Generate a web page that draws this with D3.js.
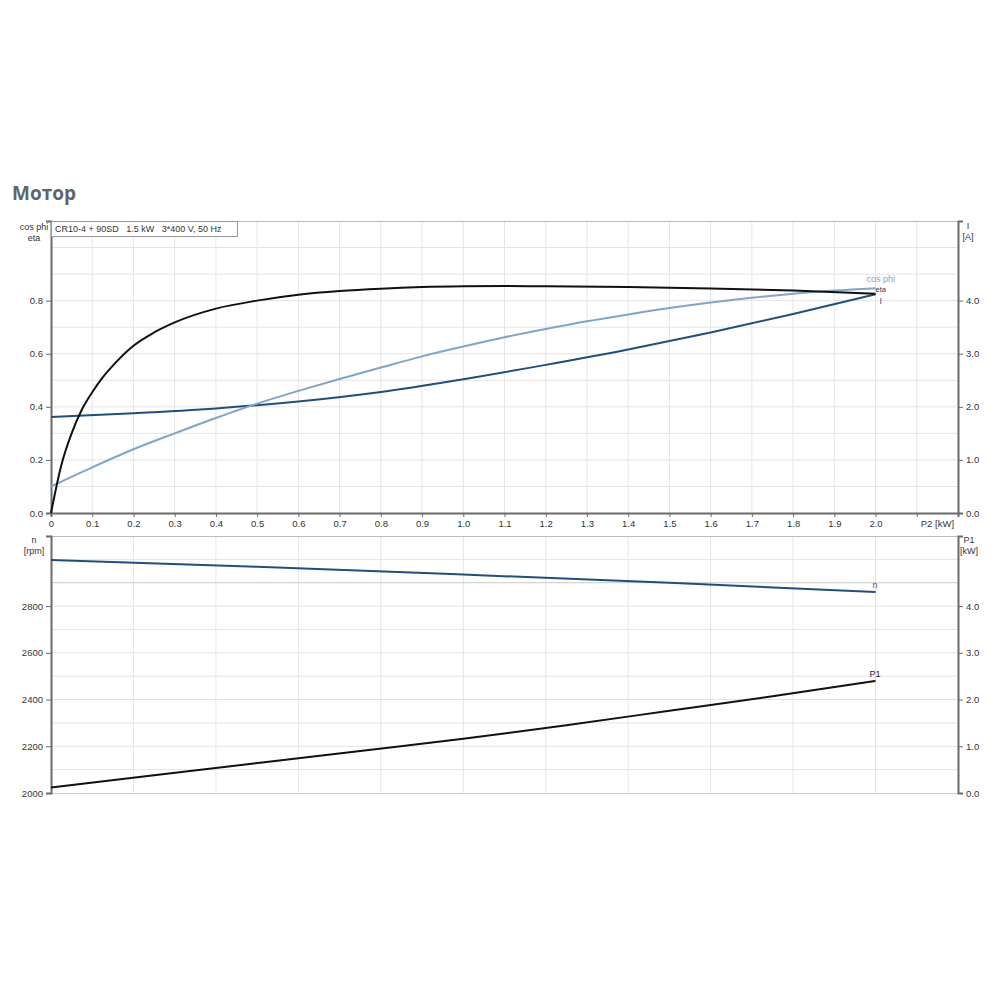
<!DOCTYPE html>
<html>
<head>
<meta charset="utf-8">
<script src="https://cdn.jsdelivr.net/npm/d3@7"></script>
<style>
  body { margin: 0; background: #fff; }
  svg { font-family: "Liberation Sans", Arial, sans-serif; }
</style>
</head>
<body>
<svg width="1000" height="1000"></svg>
<script>
// P2 [kW] on the x axis for every curve
var etaP2 = [0, 0.025, 0.05, 0.075, 0.1, 0.125, 0.15, 0.2, 0.25, 0.3, 0.4, 0.5, 0.6, 0.7, 0.8, 0.9, 1.0, 1.1, 1.2, 1.4, 1.6, 1.8, 2.0];
var etaValues = [0, 0.18, 0.30, 0.39, 0.455, 0.51, 0.555, 0.63, 0.68, 0.718, 0.77, 0.80, 0.822, 0.836, 0.845, 0.851, 0.854, 0.855, 0.854, 0.851, 0.846, 0.838, 0.826];

var cosPhiP2 = [0, 0.1, 0.2, 0.3, 0.4, 0.5, 0.6, 0.7, 0.8, 0.9, 1.0, 1.1, 1.2, 1.3, 1.4, 1.5, 1.6, 1.7, 1.8, 1.9, 2.0];
var cosPhiValues = [0.10, 0.172, 0.24, 0.30, 0.358, 0.412, 0.46, 0.505, 0.548, 0.59, 0.627, 0.662, 0.693, 0.722, 0.748, 0.772, 0.793, 0.811, 0.826, 0.838, 0.847];

var currentP2 = [0, 0.2, 0.4, 0.6, 0.8, 1.0, 1.2, 1.4, 1.6, 1.8, 2.0];
var currentValues = [1.81, 1.88, 1.97, 2.1, 2.28, 2.52, 2.79, 3.08, 3.4, 3.75, 4.12];

var speedP2 = [0, 0.5, 1.0, 1.5, 2.0];
var speedValues = [2997, 2968, 2935, 2900, 2860];

var p1P2 = [0, 0.25, 0.5, 0.75, 1.0, 1.25, 1.5, 1.75, 2.0];
var p1Values = [0.12, 0.38, 0.64, 0.9, 1.16, 1.45, 1.76, 2.07, 2.40];

var xTicks = [0, 0.1, 0.2, 0.3, 0.4, 0.5, 0.6, 0.7, 0.8, 0.9, 1.0, 1.1, 1.2, 1.3, 1.4, 1.5, 1.6, 1.7, 1.8, 1.9, 2.0];
var etaTicks = [0, 0.2, 0.4, 0.6, 0.8];
var currentTicks = [0, 1, 2, 3, 4];
var speedTicks = [2000, 2200, 2400, 2600, 2800];
var p1Ticks = [0, 1, 2, 3, 4];
var infoText = 'CR10-4 + 90SD   1.5 kW   3*400 V, 50 Hz';

var left = 51, right = 958;
var axisColor = '#6b6b6b', gridColor = '#e4e4e4', textColor = '#333';
var darkBlue = '#1f4f80', lightBlue = '#7fa5c8', black = '#111';

var svg = d3.select('svg');

svg.append('text')
    .attr('x', 12).attr('y', 200)
    .style('font-family', '"Open Sans", sans-serif')
    .style('font-weight', 700)
    .style('font-size', '19px')
    .attr('fill', '#5b6671')
    .text('Мотор');

var x = d3.scaleLinear().domain([0, 2.2]).range([left, right]);

// ---------- top chart ----------
var top1 = 221, bot1 = 513;
var yEta = d3.scaleLinear().domain([0, 1.1]).range([bot1, top1]);
var yI = d3.scaleLinear().domain([0, 5.5]).range([bot1, top1]);

var g1 = svg.append('g');

g1.selectAll('.vgrid')
    .data(d3.range(1, 22).map(i => i / 10))
  .enter().append('line')
    .attr('x1', d => x(d)).attr('x2', d => x(d))
    .attr('y1', top1).attr('y2', bot1)
    .attr('stroke', gridColor);

g1.selectAll('.hgrid')
    .data(d3.range(1, 11).map(i => i / 10))
  .enter().append('line')
    .attr('x1', left).attr('x2', right)
    .attr('y1', d => yEta(d)).attr('y2', d => yEta(d))
    .attr('stroke', gridColor);

g1.append('line')
    .attr('x1', left).attr('x2', right).attr('y1', top1 + 0.5).attr('y2', top1 + 0.5)
    .attr('stroke', '#bbb');

g1.append('g')
    .attr('transform', 'translate(' + left + ',0)')
    .call(d3.axisLeft(yEta).tickValues(etaTicks).tickFormat(d3.format('.1f')).tickSizeOuter(0).tickSize(5));

g1.append('g')
    .attr('transform', 'translate(' + right + ',0)')
    .call(d3.axisRight(yI).tickValues(currentTicks).tickFormat(d3.format('.1f')).tickSizeOuter(0).tickSize(5));

g1.append('g')
    .attr('transform', 'translate(0,' + bot1 + ')')
    .call(d3.axisBottom(x).tickValues(xTicks.concat([2.1]))
      .tickFormat(d => d === 0 ? '0' : d > 2.05 ? '' : d3.format('.1f')(d))
      .tickSizeOuter(0).tickSize(4));

g1.append('text')
    .attr('x', x(2.1) + 4).attr('y', bot1 + 14)
    .attr('font-size', 9.5).attr('fill', textColor)
    .text('P2 [kW]');

// info box
var info = g1.append('g');
info.append('rect')
    .attr('x', left + 0.5).attr('y', top1 + 0.5)
    .attr('width', 186).attr('height', 15)
    .attr('fill', '#fff').attr('stroke', '#999');
info.append('text')
    .attr('x', left + 4).attr('y', top1 + 11)
    .attr('font-size', 9).attr('fill', textColor)
    .style('white-space', 'pre')
    .text(infoText);

// axis titles
g1.append('text').attr('x', 34).attr('y', 230).attr('text-anchor', 'middle')
    .attr('font-size', 9).attr('fill', textColor).text('cos phi');
g1.append('text').attr('x', 34).attr('y', 241).attr('text-anchor', 'middle')
    .attr('font-size', 9).attr('fill', textColor).text('eta');
g1.append('text').attr('x', 968).attr('y', 229).attr('text-anchor', 'middle')
    .attr('font-size', 9).attr('fill', textColor).text('I');
g1.append('text').attr('x', 968).attr('y', 240).attr('text-anchor', 'middle')
    .attr('font-size', 9).attr('fill', textColor).text('[A]');

var curve = d3.curveMonotoneX;

var etaLine = d3.line().curve(curve).x((d, i) => x(etaP2[i])).y(d => yEta(d));
var cosLine = d3.line().curve(curve).x((d, i) => x(cosPhiP2[i])).y(d => yEta(d));
var iLine = d3.line().curve(curve).x((d, i) => x(currentP2[i])).y(d => yI(d));

g1.append('path').attr('d', iLine(currentValues))
    .attr('fill', 'none').attr('stroke', darkBlue).attr('stroke-width', 2);
g1.append('path').attr('d', cosLine(cosPhiValues))
    .attr('fill', 'none').attr('stroke', lightBlue).attr('stroke-width', 2);
g1.append('path').attr('d', etaLine(etaValues))
    .attr('fill', 'none').attr('stroke', black).attr('stroke-width', 2);

g1.append('text').attr('x', x(2.0) - 9).attr('y', yEta(cosPhiValues[cosPhiValues.length - 1]) - 6)
    .attr('font-size', 9).attr('fill', lightBlue).text('cos phi');
g1.append('text').attr('x', x(2.0)).attr('y', yEta(etaValues[etaValues.length - 1]) - 2)
    .attr('font-size', 7.5).attr('fill', '#333').text('eta');
g1.append('text').attr('x', x(2.0) + 4).attr('y', yI(currentValues[currentValues.length - 1]) + 10)
    .attr('font-size', 9).attr('fill', darkBlue).text('I');

// ---------- bottom chart ----------
var top2 = 536, bot2 = 793;
var yN = d3.scaleLinear().domain([2000, 3100]).range([bot2, top2]);
var yP1 = d3.scaleLinear().domain([0, 5.5]).range([bot2, top2]);

var g2 = svg.append('g');

g2.selectAll('.vgrid')
    .data(d3.range(1, 11).map(i => i / 5))
  .enter().append('line')
    .attr('x1', d => x(d)).attr('x2', d => x(d))
    .attr('y1', top2).attr('y2', bot2)
    .attr('stroke', gridColor);

g2.selectAll('.hgrid')
    .data(d3.range(1, 11).map(i => 2000 + i * 100))
  .enter().append('line')
    .attr('x1', left).attr('x2', right)
    .attr('y1', d => yN(d)).attr('y2', d => yN(d))
    .attr('stroke', d => d === 2900 ? '#c8c8c8' : gridColor);

g2.append('line')
    .attr('x1', left).attr('x2', right).attr('y1', top2 + 0.5).attr('y2', top2 + 0.5)
    .attr('stroke', '#bbb');
g2.append('line')
    .attr('x1', left).attr('x2', right).attr('y1', bot2 + 0.5).attr('y2', bot2 + 0.5)
    .attr('stroke', '#ccc');

g2.append('g')
    .attr('transform', 'translate(' + left + ',0)')
    .call(d3.axisLeft(yN).tickValues(speedTicks).tickFormat(d3.format('d')).tickSizeOuter(0).tickSize(5));

g2.append('g')
    .attr('transform', 'translate(' + right + ',0)')
    .call(d3.axisRight(yP1).tickValues(p1Ticks).tickFormat(d3.format('.1f')).tickSizeOuter(0).tickSize(5));

g2.append('text').attr('x', 34).attr('y', 543).attr('text-anchor', 'middle')
    .attr('font-size', 9).attr('fill', textColor).text('n');
g2.append('text').attr('x', 34).attr('y', 554).attr('text-anchor', 'middle')
    .attr('font-size', 9).attr('fill', textColor).text('[rpm]');
g2.append('text').attr('x', 969).attr('y', 543).attr('text-anchor', 'middle')
    .attr('font-size', 9).attr('fill', textColor).text('P1');
g2.append('text').attr('x', 969).attr('y', 554).attr('text-anchor', 'middle')
    .attr('font-size', 9).attr('fill', textColor).text('[kW]');

var nLine = d3.line().curve(curve).x((d, i) => x(speedP2[i])).y(d => yN(d));
var p1Line = d3.line().curve(curve).x((d, i) => x(p1P2[i])).y(d => yP1(d));

g2.append('path').attr('d', nLine(speedValues))
    .attr('fill', 'none').attr('stroke', darkBlue).attr('stroke-width', 2);
g2.append('path').attr('d', p1Line(p1Values))
    .attr('fill', 'none').attr('stroke', black).attr('stroke-width', 2);

g2.append('text').attr('x', x(2.0) - 3).attr('y', yN(speedValues[speedValues.length - 1]) - 4)
    .attr('font-size', 9).attr('fill', '#555').text('n');
g2.append('text').attr('x', x(2.0) - 6).attr('y', yP1(p1Values[p1Values.length - 1]) - 4)
    .attr('font-size', 9).attr('fill', '#222').text('P1');

// axis styling
svg.selectAll('.domain').attr('stroke', axisColor).attr('stroke-width', 2);
svg.selectAll('.tick line').attr('stroke', axisColor);
svg.selectAll('.tick text').attr('fill', textColor).attr('font-size', 9.5)
    .style('font-family', '"Liberation Sans", Arial, sans-serif');
</script>
</body>
</html>
